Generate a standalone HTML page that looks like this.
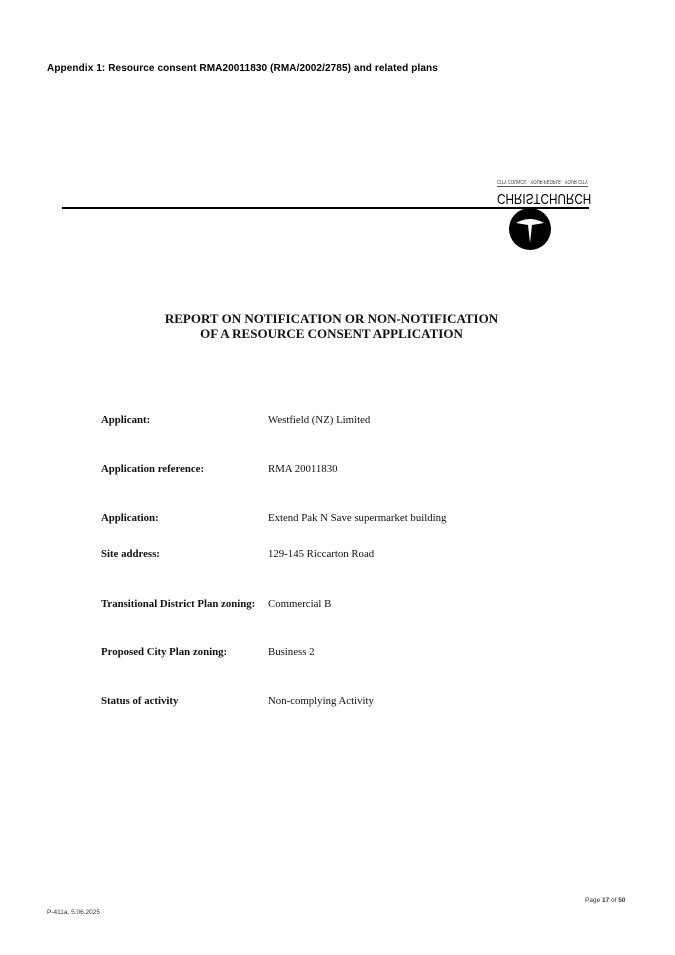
<!DOCTYPE html>
<html><head><style>
body{margin:0;width:675px;height:955px;background:#fff;position:relative;overflow:hidden}
.a{position:absolute;white-space:nowrap}
.c{font-family:"Liberation Sans",sans-serif}
.s{font-family:"Liberation Serif",serif;font-size:10.8px;color:#111}
b{font-weight:bold}
</style></head><body>
<div class="a c" style="left:47px;top:63px;font-size:10px;font-weight:bold;letter-spacing:0.1px">Appendix 1: Resource consent RMA20011830 (RMA/2002/2785) and related plans</div>
<div class="a" style="left:62px;top:207px;width:527px;height:1.5px;background:#000"></div>
<div class="a c" style="left:497px;top:178px;font-size:5px;transform:scale(0.85,-1);transform-origin:left center;color:#333">CITY COUNCIL · YOUR PEOPLE · YOUR CITY</div>
<div class="a" style="left:497px;top:186px;width:91px;height:1px;background:#555"></div>
<div class="a c" style="left:497px;top:190px;font-size:15px;transform:scale(0.78,-1);transform-origin:left center;color:#000">CHRISTCHURCH</div>
<svg class="a" style="left:508px;top:207px" width="44" height="44"><circle cx="22" cy="22" r="21" fill="#000"/><path d="M8 16 Q22 8 36 16 L24 18 L22 36 L20 18 Z" fill="#fff"/></svg>
<div class="a s" style="left:160px;top:311px;font-size:13px;font-weight:bold;text-align:center;width:343px;line-height:15px">REPORT ON NOTIFICATION OR NON-NOTIFICATION<br>OF A RESOURCE CONSENT APPLICATION</div>
<div class="a s" style="left:101px;top:414px"><b>Applicant:</b></div><div class="a s" style="left:268px;top:414px">Westfield (NZ) Limited</div>
<div class="a s" style="left:101px;top:463px"><b>Application reference:</b></div><div class="a s" style="left:268px;top:463px">RMA 20011830</div>
<div class="a s" style="left:101px;top:512px"><b>Application:</b></div><div class="a s" style="left:268px;top:512px">Extend Pak N Save supermarket building</div>
<div class="a s" style="left:101px;top:548px"><b>Site address:</b></div><div class="a s" style="left:268px;top:548px">129-145 Riccarton Road</div>
<div class="a s" style="left:101px;top:598px"><b>Transitional District Plan zoning:</b></div><div class="a s" style="left:268px;top:598px">Commercial B</div>
<div class="a s" style="left:101px;top:646px"><b>Proposed City Plan zoning:</b></div><div class="a s" style="left:268px;top:646px">Business 2</div>
<div class="a s" style="left:101px;top:695px"><b>Status of activity</b></div><div class="a s" style="left:268px;top:695px">Non-complying Activity</div>
<div class="a c" style="left:585px;top:897px;font-size:6.5px;color:#333">Page <b>17</b> of <b>50</b></div>
<div class="a c" style="left:47px;top:909px;font-size:6.5px;color:#333">P-411a, 5.06.2025</div>
</body></html>
